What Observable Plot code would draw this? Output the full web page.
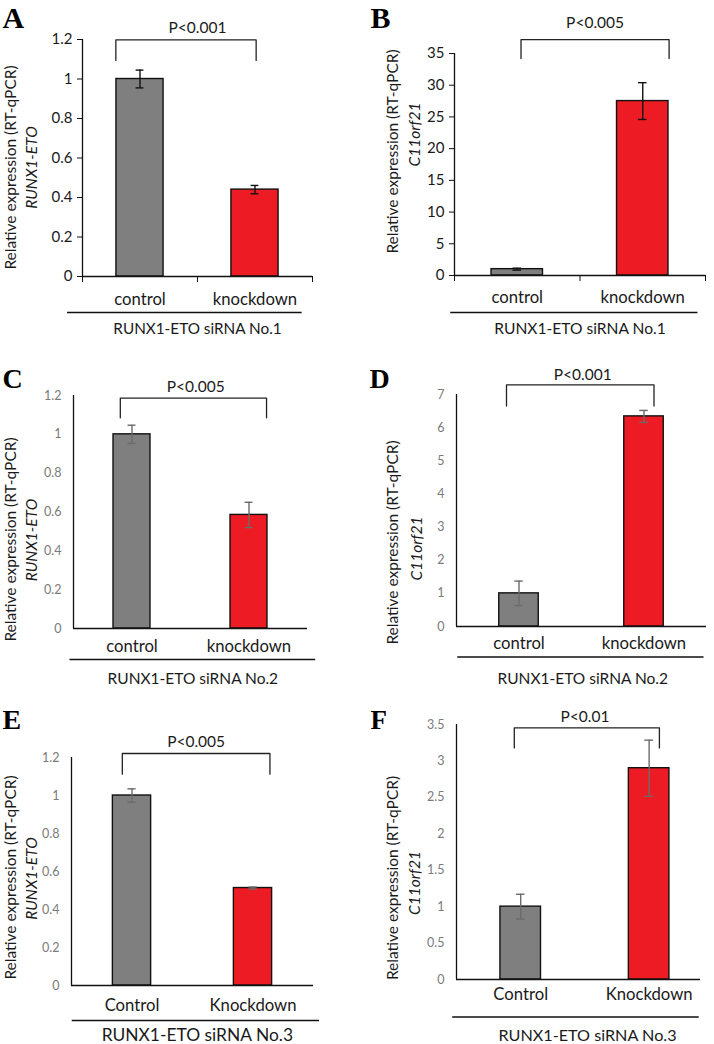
<!DOCTYPE html>
<html>
<head>
<meta charset="utf-8">
<script src="https://cdn.jsdelivr.net/npm/d3@7"></script>
<script src="https://cdn.jsdelivr.net/npm/@observablehq/plot@0.6"></script>
<style>
  body { margin: 0; background: #fff; }
  #fig { position: relative; width: 714px; height: 1044px; background: #fff; overflow: hidden; }
  #fig svg { position: absolute; overflow: visible; }
</style>
</head>
<body>
<div id="fig"></div>
<script>
// ---------------- data ----------------
const letters = ["A", "B", "C", "D", "E", "F"];
const catsLower = ["control", "knockdown"];
const catsUpper = ["Control", "Knockdown"];
const genes = ["RUNX1-ETO", "C11orf21", "RUNX1-ETO", "C11orf21", "RUNX1-ETO", "C11orf21"];
const sirnaLabels = ["RUNX1-ETO siRNA No.1", "RUNX1-ETO siRNA No.1",
                     "RUNX1-ETO siRNA No.2", "RUNX1-ETO siRNA No.2",
                     "RUNX1-ETO siRNA No.3", "RUNX1-ETO siRNA No.3"];
const pLabels = ["P<0.001", "P<0.005", "P<0.005", "P<0.001", "P<0.005", "P<0.01"];
const yTitle = "Relative expression (RT-qPCR)";

const meanA = [1.0, 0.44],  errA = [0.045, 0.021];
const meanB = [1.0, 27.5],  errB = [0.15, 2.9];
const meanC = [1.0, 0.585], errC = [0.047, 0.065];
const meanD = [1.0, 6.34],  errD = [0.37, 0.18];
const meanE = [1.0, 0.513], errE = [0.035, 0.005];
const meanF = [1.0, 2.9],   errF = [0.17, 0.385];

const ticksA = [0, 0.2, 0.4, 0.6, 0.8, 1, 1.2];
const ticksB = [0, 5, 10, 15, 20, 25, 30, 35];
const ticksC = [0, 0.2, 0.4, 0.6, 0.8, 1, 1.2];
const ticksD = [0, 1, 2, 3, 4, 5, 6, 7];
const ticksE = [0, 0.2, 0.4, 0.6, 0.8, 1, 1.2];
const ticksF = [0, 0.5, 1, 1.5, 2, 2.5, 3, 3.5];

const barColors = ["#7f7f7f", "#ed1c24"];

// ---------------- layout (positions / styles) ----------------
const FONT = "Lato, 'Open Sans', sans-serif";
const SERIF = "'Liberation Serif', 'DejaVu Serif', serif";
const INK = "#1a1a1a";

const panels = [
  { means: meanA, errs: errA, ticks: ticksA, cats: catsLower, style: "old", tickFs: 15,
    left: 0, top: 0, w: 357, h: 340, mL: 82, mR: 45, mT: 39, mB: 64, xMax: 2, hw: 0.205,
    br: { x: [0.29, 1.51], y: [1.094, 1.198] }, pPos: [1.0, 1.235],
    letter: { dx: -80, base: 27, size: 30 }, tdx: [-71, -50], tdy: [9.5, 9.5],
    catDy: 28, ul: [-0.13, 1.91], ulDy: 36, sX: 1.0, sDy: 57, sFs: 15.3 },
  { means: meanB, errs: errB, ticks: ticksB, cats: catsLower, style: "old", tickFs: 15,
    left: 357, top: 0, w: 357, h: 340, mL: 97, mR: 9, mT: 53, mB: 65, xMax: 2, hw: 0.205,
    br: { x: [0.53, 1.71], y: [34.2, 37.2] }, pPos: [1.12, 39.0],
    letter: { dx: -84, base: 27, size: 30 }, tdx: [-61, -39], tdy: [-13, -30],
    catDy: 27, ul: [-0.03, 1.94], ulDy: 37, sX: 1.0, sDy: 58, sFs: 15.6 },
  { means: meanC, errs: errC, ticks: ticksC, cats: catsLower, style: "new", tickFs: 12.5,
    left: 0, top: 340, w: 357, h: 340, mL: 73, mR: 50, mT: 55, mB: 52, xMax: 2, hw: 0.158,
    br: { x: [0.40, 1.65], y: [1.085, 1.186] }, pPos: [1.045, 1.217],
    letter: { dx: -71, base: 387, size: 28 }, tdx: [-62, -41], tdy: [27.5, 28],
    catDy: 23.5, ul: [-0.03, 2.07], ulDy: 31, sX: 1.02, sDy: 55, sFs: 15.5 },
  { means: meanD, errs: errD, ticks: ticksD, cats: catsLower, style: "new", tickFs: 12.5,
    left: 357, top: 340, w: 357, h: 340, mL: 99, mR: 8, mT: 54, mB: 54, xMax: 2, hw: 0.158,
    br: { x: [0.40, 1.58], y: [6.65, 7.29] }, pPos: [1.01, 7.44],
    letter: { dx: -87, base: 387, size: 28 }, tdx: [-63, -39], tdy: [32, 38],
    catDy: 22.5, ul: [0.01, 1.98], ulDy: 30.5, sX: 1.01, sDy: 57, sFs: 15.5 },
  { means: meanE, errs: errE, ticks: ticksE, cats: catsUpper, style: "new", tickFs: 12.5,
    left: 0, top: 680, w: 357, h: 364, mL: 71, mR: 44, mT: 77, mB: 59, xMax: 2, hw: 0.158,
    br: { x: [0.42, 1.64], y: [1.112, 1.221] }, pPos: [1.03, 1.257],
    letter: { dx: -69, base: 728, size: 28 }, tdx: [-60, -39], tdy: [6, 7],
    catDy: 25, ul: [0.006, 2.05], ulDy: 35, sX: 1.04, sDy: 55.5, sFs: 17.4 },
  { means: meanF, errs: errF, ticks: ticksF, cats: catsUpper, style: "new", tickFs: 12.5,
    left: 357, top: 680, w: 357, h: 364, mL: 99, mR: 14, mT: 44, mB: 65, xMax: 1.9, hw: 0.158,
    br: { x: [0.45, 1.58], y: [3.179, 3.454] }, pPos: [1.0, 3.528],
    letter: { dx: -86, base: 728, size: 27 }, tdx: [-63, -41], tdy: [26, 31],
    catDy: 20.5, ul: [-0.03, 1.89], ulDy: 37.5, sX: 1.02, sDy: 61.5, sFs: 16.2 }
];

const fig = document.getElementById("fig");

panels.forEach((p, k) => {
  const data = p.cats.map((c, i) => ({ cat: c, x: i + 0.5, mean: p.means[i], err: p.errs[i], fill: barColors[i] }));
  const caps = data.flatMap(d => [{ x: d.x, y: d.mean - d.err }, { x: d.x, y: d.mean + d.err }]);
  const old = p.style === "old";
  const errColor = old ? "#111" : "#6b6b6b";
  const capHalf = 0.034;
  const yMax = p.ticks[p.ticks.length - 1];
  const bracket = [
    { x: p.br.x[0], y: p.br.y[0] }, { x: p.br.x[0], y: p.br.y[1] },
    { x: p.br.x[1], y: p.br.y[1] }, { x: p.br.x[1], y: p.br.y[0] }
  ];

  const marks = [
    Plot.rect(data, { x1: d => d.x - p.hw, x2: d => d.x + p.hw, y1: d => 0, y2: "mean",
      fill: "fill", stroke: "#111", strokeWidth: 1.4 }),
    Plot.ruleX(data, { x: "x", y1: d => d.mean - d.err, y2: d => d.mean + d.err, stroke: errColor, strokeWidth: 1.4 }),
    Plot.ruleY(caps, { y: "y", x1: d => d.x - capHalf, x2: d => d.x + capHalf, stroke: errColor, strokeWidth: 1.4 }),
    Plot.ruleX([0], { stroke: "#111", strokeWidth: 1.3 }),
    Plot.ruleY([0], { stroke: "#111", strokeWidth: 1.3 }),
    Plot.axisY({ ticks: p.ticks, tickSize: old ? 5 : 0, tickPadding: old ? 5 : 12,
      tickFormat: d => String(d), fontSize: p.tickFs, color: old ? INK : "#7a7a7a",
      stroke: "#111", label: null }),
    Plot.text(data, { x: "x", y: d => 0, text: "cat", dy: p.catDy, lineAnchor: "bottom",
      fontSize: 16.7, fill: INK }),
    Plot.line(bracket, { x: "x", y: "y", stroke: "#222", strokeWidth: 1.3, strokeLinejoin: "round" }),
    Plot.text([pLabels[k]], { x: () => p.pPos[0], y: () => p.pPos[1], text: d => d,
      lineAnchor: "bottom", fontSize: 15.5, fill: INK }),
    Plot.text([yTitle], { frameAnchor: "left", text: d => d, rotate: -90, dx: p.tdx[0], dy: p.tdy[0],
      textAnchor: "middle", lineAnchor: "middle", fontSize: 15.5, fill: INK }),
    Plot.text([genes[k]], { frameAnchor: "left", text: d => d, rotate: -90, dx: p.tdx[1], dy: p.tdy[1],
      textAnchor: "middle", lineAnchor: "middle", fontSize: 15.5, fontStyle: "italic", fill: INK }),
    Plot.ruleY([0], { x1: p.ul[0], x2: p.ul[1], dy: p.ulDy, stroke: "#111", strokeWidth: 1.3 }),
    Plot.text([sirnaLabels[k]], { x: () => p.sX, y: () => 0, text: d => d, dy: p.sDy,
      lineAnchor: "bottom", fontSize: p.sFs, fill: INK }),
    Plot.text([letters[k]], { frameAnchor: "top-left", text: d => d, dx: p.letter.dx,
      dy: p.letter.base - p.top - p.mT, lineAnchor: "bottom", textAnchor: "start",
      fontFamily: SERIF, fontWeight: "bold", fontSize: p.letter.size, fill: "#000" })
  ];
  if (old) {
    marks.push(Plot.axisX({ ticks: [0, 1, 2], tickSize: 6, tickFormat: () => "", stroke: "#111", label: null }));
  }

  const svg = Plot.plot({
    width: p.w, height: p.h,
    marginLeft: p.mL, marginRight: p.mR, marginTop: p.mT, marginBottom: p.mB,
    x: { domain: [0, p.xMax], axis: null },
    y: { domain: [0, yMax], axis: null },
    color: { type: "identity" },
    style: { fontFamily: FONT, fontSize: "14px", color: INK, background: "transparent", overflow: "visible" },
    marks
  });
  svg.style.left = p.left + "px";
  svg.style.top = p.top + "px";
  fig.appendChild(svg);
});
</script>
</body>
</html>
